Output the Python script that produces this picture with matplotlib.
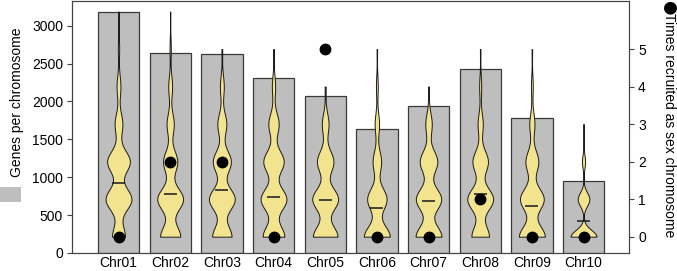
import numpy as np
import matplotlib.pyplot as plt
from matplotlib.patches import Rectangle

plt.rcParams['font.family'] = ['Liberation Sans', 'DejaVu Sans']

chroms = ['Chr01', 'Chr02', 'Chr03', 'Chr04', 'Chr05',
          'Chr06', 'Chr07', 'Chr08', 'Chr09', 'Chr10']
genes = [3180, 2640, 2626, 2314, 2067, 1637, 1935, 2428, 1782, 945]
recruited = [0, 2, 2, 0, 5, 0, 0, 1, 0, 0]

# violin shapes: relative density at 0, 1, 2, ... times recruited
peaks = [
    [0.50, 1.00, 0.88, 0.30, 0.15, 0.05, 0.015],
    [0.78, 1.00, 0.55, 0.28, 0.15, 0.05, 0.015],
    [0.75, 1.00, 0.70, 0.35, 0.15, 0.03],
    [0.80, 0.95, 0.75, 0.38, 0.12, 0.03],
    [0.95, 1.00, 0.64, 0.26, 0.04],
    [1.00, 0.75, 0.33, 0.17, 0.07, 0.02],
    [1.00, 0.98, 0.68, 0.25, 0.04],
    [0.68, 1.00, 0.60, 0.20, 0.08, 0.02],
    [1.00, 0.92, 0.50, 0.20, 0.07, 0.02],
    [1.00, 0.45, 0.12, 0.02],
]
bw = [0.29, 0.29, 0.29, 0.29, 0.29, 0.29, 0.29, 0.29, 0.29, 0.18]
means = [1.43, 1.15, 1.24, 1.06, 0.97, 0.76, 0.96, 1.15, 0.83, 0.42]

x = np.arange(len(chroms))

fig = plt.figure(figsize=(6.77, 2.71), dpi=100)
ax = fig.add_axes([72 / 677, 18 / 271, 557 / 677, 252.3 / 271])
ax2 = ax.twinx()

ax.bar(x, genes, width=0.8, color='#bebebe', edgecolor='#3a3a3a', linewidth=0.9, zorder=2)
ax.set_xlim(-0.9, 9.88)
ax.set_ylim(0, 3330)
ax.set_yticks(np.arange(0, 3001, 500))
ax.set_xticks(x)
ax.set_xticklabels(chroms)

stats = []
for p, s, m in zip(peaks, bw, means):
    top = len(p) - 1
    yy = np.linspace(0, top, 300)
    dens = np.zeros_like(yy)
    for k, w in enumerate(p):
        dens += w * np.exp(-0.5 * ((yy - k) / s) ** 2)
    stats.append(dict(coords=yy, vals=dens, mean=m, median=m, min=0, max=top))

parts = ax2.violin(stats, positions=x, widths=0.5, showmeans=True,
                   showextrema=False, showmedians=False)
for pc in parts['bodies']:
    pc.set_facecolor('#f2e38e')
    pc.set_edgecolor('#1a1a1a')
    pc.set_linewidth(0.7)
    pc.set_alpha(1)
parts['cmeans'].set_color('#1a1a1a')
parts['cmeans'].set_linewidth(1.1)

ax2.plot(x, recruited, 'o', color='black', markersize=7.5, zorder=5)
ax2.set_ylim(-0.435, 6.29)
ax2.set_yticks(range(6))

for a in (ax, ax2):
    for sp in a.spines.values():
        sp.set_color('#444444')
        sp.set_linewidth(0.8)
    a.tick_params(axis='y', labelsize=10, length=3.5, width=0.8, color='#444444', pad=3)
    a.tick_params(axis='x', labelsize=10, length=0, pad=2)

fig.text(17 / 677, 1 - 102.5 / 271, 'Genes per chromosome', rotation=90,
         ha='center', va='center', fontsize=10)
fig.add_artist(Rectangle((0, 1 - 202 / 271), 21 / 677, 15 / 271,
                         transform=fig.transFigure, color='#bebebe', lw=0))
fig.text(669 / 677, 1.0, '\u25cf', rotation=270, ha='center', va='top',
         fontsize=12, family='DejaVu Sans')
fig.text(669 / 677, 1 - 13 / 271, 'Times recruited as sex chromosome', rotation=270,
         ha='center', va='top', fontsize=10)

fig.savefig('out.png', dpi=100)
